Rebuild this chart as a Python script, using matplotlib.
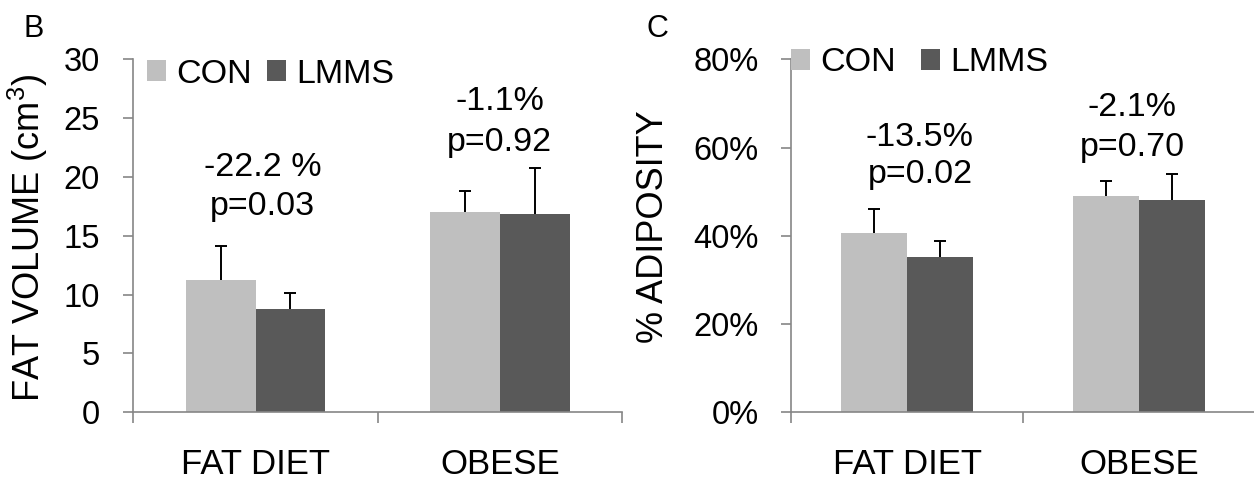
import matplotlib
matplotlib.use("Agg")
import matplotlib.pyplot as plt
import numpy as np
from matplotlib.ticker import FuncFormatter
from matplotlib.patches import Patch

plt.rcParams['font.family'] = ['Liberation Sans', 'DejaVu Sans']
plt.rcParams['mathtext.fontset'] = 'custom'
plt.rcParams['mathtext.rm'] = 'Liberation Sans'

categories = ['FAT DIET', 'OBESE']
series = ['CON', 'LMMS']

# Panel B: fat volume (cm3)
vol_con = [11.24, 17.02]
vol_con_err = [2.9, 1.8]
vol_lmms = [8.77, 16.83]
vol_lmms_err = [1.4, 3.95]
vol_pct = ['-22.2 %', '-1.1%']
vol_p = ['p=0.03', 'p=0.92']

# Panel C: % adiposity
adi_con = [40.6, 49.1]
adi_con_err = [5.4, 3.3]
adi_lmms = [35.1, 48.1]
adi_lmms_err = [3.8, 5.8]
adi_pct = ['-13.5%', '-2.1%']
adi_p = ['p=0.02', 'p=0.70']

C_CON = '#bfbfbf'
C_LMMS = '#595959'
C_AX = '#868686'

W, H = 1254, 482
fig = plt.figure(figsize=(W / 100, H / 100), dpi=100)

ax1 = fig.add_axes([133.3 / W, 69.7 / H, 488.8 / W, 353 / H])
ax2 = fig.add_axes([791 / W, 69.7 / H, 464 / W, 353 / H])

bw = 0.286


def up_errorbar(ax, xs, vals, errs):
    eb = ax.errorbar(xs, vals, yerr=[np.zeros(len(vals)), errs], fmt='none',
                     ecolor='black', elinewidth=1.4, capsize=4.3, capthick=1.4, zorder=3)
    # hide the caps sitting on the bar tops (zero lower error)
    for cl in eb[1]:
        if np.allclose(np.asarray(cl.get_ydata(), dtype=float), np.asarray(vals, dtype=float)):
            cl.set_visible(False)


def draw(ax, con, con_err, lmms, lmms_err, ymax, ystep, pct, p, txt_x, txt_y1, txt_y2,
         leg_anchor, colspace, ytick_pad, fmt=None):
    x = np.arange(len(categories))
    ax.bar(x - bw / 2, con, bw, color=C_CON, zorder=2)
    ax.bar(x + bw / 2, lmms, bw, color=C_LMMS, zorder=2)
    up_errorbar(ax, x - bw / 2, con, con_err)
    up_errorbar(ax, x + bw / 2, lmms, lmms_err)
    ax.set_xlim(-0.5, 1.5)
    ax.set_ylim(0, ymax)
    ax.set_yticks(np.arange(0, ymax + ystep / 2, ystep))
    if fmt is not None:
        ax.yaxis.set_major_formatter(FuncFormatter(fmt))
    for s in ['top', 'right']:
        ax.spines[s].set_visible(False)
    for s in ['left', 'bottom']:
        ax.spines[s].set_color(C_AX)
        ax.spines[s].set_linewidth(1.2)
    ax.set_xticks(x)
    ax.set_xticklabels(categories)
    ax.set_xticks([-0.5, 0.5, 1.5], minor=True)
    ax.tick_params(axis='x', which='major', length=0, pad=26, labelsize=25)
    ax.tick_params(axis='x', which='minor', length=8, width=1.2, color=C_AX, direction='out')
    ax.tick_params(axis='y', length=7.2, width=1.2, color=C_AX, direction='out',
                   pad=ytick_pad, labelsize=23.5)
    for i in range(len(categories)):
        ax.text(i + txt_x[i], txt_y1[i], pct[i], ha='center', va='center', fontsize=24.5)
        ax.text(i + txt_x[i], txt_y2[i], p[i], ha='center', va='center', fontsize=24.5)
    handles = [Patch(facecolor=C_CON, edgecolor='none'), Patch(facecolor=C_LMMS, edgecolor='none')]
    ax.legend(handles, series, loc='center left', bbox_to_anchor=leg_anchor, ncol=2,
              frameon=False, fontsize=24.5, handlelength=0.55, handleheight=0.55,
              handletextpad=0.3, columnspacing=colspace, borderpad=0, borderaxespad=0)


draw(ax1, vol_con, vol_con_err, vol_lmms, vol_lmms_err, 30, 5, vol_pct, vol_p,
     [0.03, 0.0], [20.8, 26.4], [17.5, 22.9], (0.028, 0.958), 0.45, 17)
draw(ax2, adi_con, adi_con_err, adi_lmms, adi_lmms_err, 80, 20, adi_pct, adi_p,
     [0.056, -0.03], [62.3, 69.1], [54.0, 60.1], (0.0, 0.99), 0.75, 16,
     fmt=lambda v, pos: f'{v:.0f}%')

fig.text(28 / W, 1 - 238 / H, 'FAT VOLUME (cm$^{3}$)', rotation=90, ha='center', va='center', fontsize=26)
fig.text(654 / W, 1 - 227 / H, '% ADIPOSITY', rotation=90, ha='center', va='center', fontsize=26)
fig.text(23 / W, 1 - 37 / H, 'B', ha='left', va='baseline', fontsize=22)
fig.text(646 / W, 1 - 37 / H, 'C', ha='left', va='baseline', fontsize=22)

fig.savefig('out.png', dpi=100)
